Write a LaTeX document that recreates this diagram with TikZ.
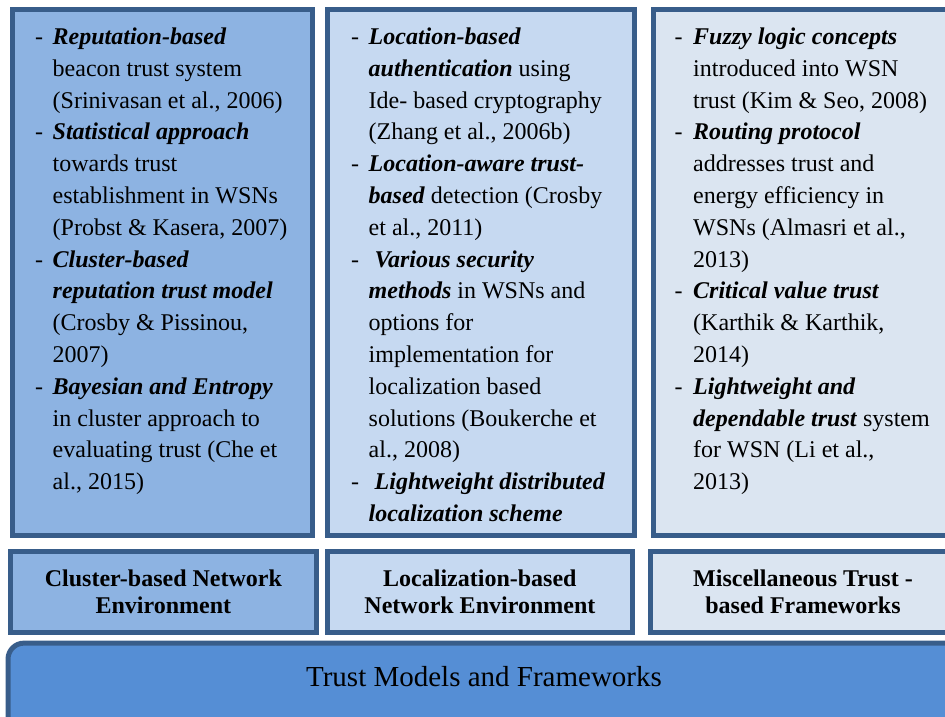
\documentclass[tikz,border=0pt]{standalone}
\usepackage{fontspec}
\setmainfont{Liberation Serif}
\usetikzlibrary{positioning}

\definecolor{panelborder}{HTML}{385D8A}
\definecolor{clusterfill}{HTML}{8DB3E2}
\definecolor{localfill}{HTML}{C6D9F1}
\definecolor{miscfill}{HTML}{DBE5F1}
\definecolor{basefill}{HTML}{558ED5}

\newcommand{\bi}[1]{\textbf{\textit{#1}}}

\begin{document}
\begin{tikzpicture}[x=1pt,y=-1pt,
  panel/.style={draw=panelborder, line width=5pt, inner sep=0pt},
  itemtext/.style={anchor=base west, inner sep=0pt, font=\fontsize{24}{31.8}\selectfont},
  labeltext/.style={align=center, font=\fontsize{24}{26.5}\selectfont\bfseries}]
\clip (0,0) rectangle (945,716);
% top panels
\node[panel, fill=clusterfill, minimum width=299.7pt, minimum height=526pt] (clustertop) at (162.4,272.5) {};
\node[panel, fill=localfill, minimum width=306.7pt, minimum height=526pt] (localtop) at (480.9,272.5) {};
\node[panel, fill=miscfill, minimum width=305pt, minimum height=526pt] (misctop) at (806,272.5) {};
\node[itemtext] (clusteritems) at (35,44.5) {\begin{tabular}[t]{@{}p{17.5pt}@{}l@{}}
- & \bi{Reputation-based}\\
  & beacon trust system\\
  & (Srinivasan et al., 2006)\\
- & \bi{Statistical approach}\\
  & towards trust\\
  & establishment in WSNs\\
  & (Probst \& Kasera, 2007)\\
- & \bi{Cluster-based}\\
  & \bi{reputation trust model}\\
  & (Crosby \& Pissinou,\\
  & 2007)\\
- & \bi{Bayesian and Entropy}\\
  & in cluster approach to\\
  & evaluating trust (Che et\\
  & al., 2015)
\end{tabular}};
\node[itemtext] (localitems) at (351,44.5) {\begin{tabular}[t]{@{}p{17.5pt}@{}l@{}}
- & \bi{Location-based}\\
  & \bi{authentication} using\\
  & Ide- based cryptography\\
  & (Zhang et al., 2006b)\\
- & \bi{Location-aware trust-}\\
  & \bi{based} detection (Crosby\\
  & et al., 2011)\\
- & ~\bi{Various security}\\
  & \bi{methods} in WSNs and\\
  & options for\\
  & implementation for\\
  & localization based\\
  & solutions (Boukerche et\\
  & al., 2008)\\
- & ~\bi{Lightweight distributed}\\
  & \bi{localization scheme}
\end{tabular}};
\node[itemtext] (miscitems) at (674.5,44.5) {\begin{tabular}[t]{@{}p{18.5pt}@{}l@{}}
- & \bi{Fuzzy logic concepts}\\
  & introduced into WSN\\
  & trust (Kim \& Seo, 2008)\\
- & \bi{Routing protocol}\\
  & addresses trust and\\
  & energy efficiency in\\
  & WSNs (Almasri et al.,\\
  & 2013)\\
- & \bi{Critical value trust}\\
  & (Karthik \& Karthik,\\
  & 2014)\\
- & \bi{Lightweight and}\\
  & \bi{dependable trust} system\\
  & for WSN (Li et al.,\\
  & 2013)
\end{tabular}};
% category labels
\node[panel, labeltext, fill=clusterfill, minimum width=305.7pt, minimum height=81pt] (clusterlabel) at (163.4,592) {Cluster-based Network\\Environment};
\node[panel, labeltext, fill=localfill, minimum width=305.3pt, minimum height=81pt] (locallabel) at (479.9,592) {Localization-based\\Network Environment};
\node[panel, labeltext, fill=miscfill, minimum width=305pt, minimum height=81pt] (misclabel) at (803,592) {Miscellaneous Trust -\\based Frameworks};
% base
\node[panel, fill=basefill, rounded corners=16pt, minimum width=952pt, minimum height=117pt] (trustbase) at (484,701.6) {};
\node[anchor=base, inner sep=0pt, font=\fontsize{29}{34}\selectfont] (trusttitle) at (484,686) {Trust Models and Frameworks};
\end{tikzpicture}
\end{document}
